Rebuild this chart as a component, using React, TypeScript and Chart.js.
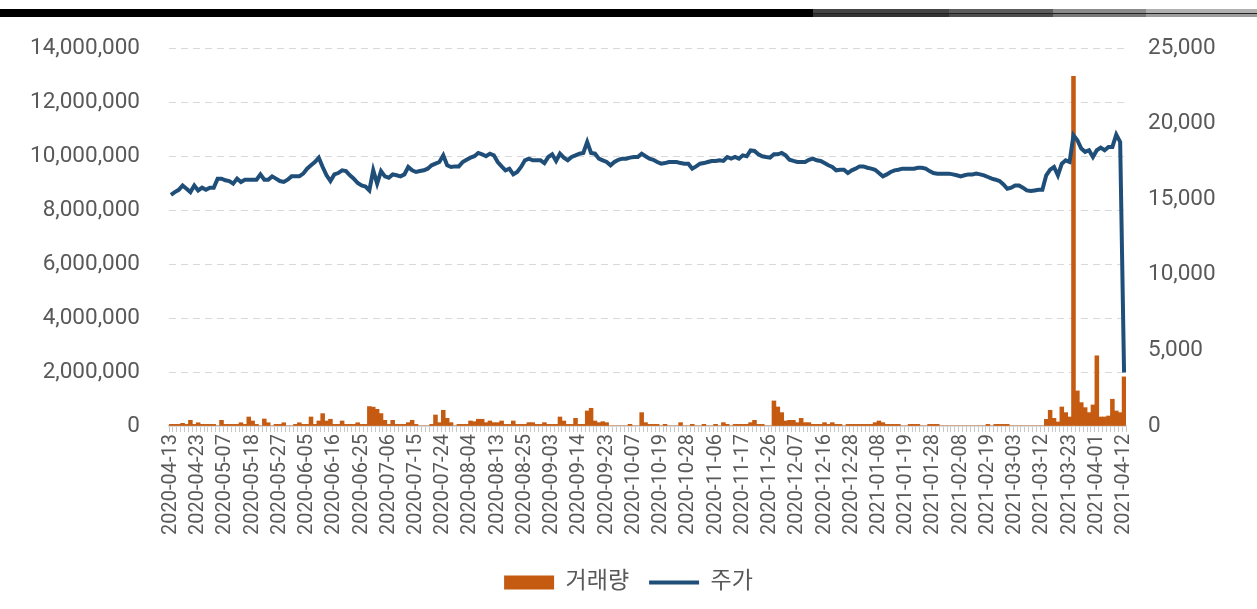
import React, { useEffect, useRef } from 'react';
import { Chart, registerables } from 'chart.js';

Chart.register(...registerables);

// Korean trading days, 2020-04-13 .. 2021-04-12
const MONTH_DAYS: [string, number[]][] = [
  ['2020-04', [13, 14, 16, 17, 20, 21, 22, 23, 24, 27, 28, 29]],
  ['2020-05', [4, 6, 7, 8, 11, 12, 13, 14, 15, 18, 19, 20, 21, 22, 25, 26, 27, 28, 29]],
  ['2020-06', [1, 2, 3, 4, 5, 8, 9, 10, 11, 12, 15, 16, 17, 18, 19, 22, 23, 24, 25, 26, 29, 30]],
  ['2020-07', [1, 2, 3, 6, 7, 8, 9, 10, 13, 14, 15, 16, 17, 20, 21, 22, 23, 24, 27, 28, 29, 30, 31]],
  ['2020-08', [3, 4, 5, 6, 7, 10, 11, 12, 13, 14, 18, 19, 20, 21, 24, 25, 26, 27, 28, 31]],
  ['2020-09', [1, 2, 3, 4, 7, 8, 9, 10, 11, 14, 15, 16, 17, 18, 21, 22, 23, 24, 25, 28, 29]],
  ['2020-10', [5, 6, 7, 8, 12, 13, 14, 15, 16, 19, 20, 21, 22, 23, 26, 27, 28, 29, 30]],
  ['2020-11', [2, 3, 4, 5, 6, 9, 10, 11, 12, 13, 16, 17, 18, 19, 20, 23, 24, 25, 26, 27, 30]],
  ['2020-12', [1, 2, 3, 4, 7, 8, 9, 10, 11, 14, 15, 16, 17, 18, 21, 22, 23, 24, 28, 29, 30]],
  ['2021-01', [4, 5, 6, 7, 8, 11, 12, 13, 14, 15, 18, 19, 20, 21, 22, 25, 26, 27, 28, 29]],
  ['2021-02', [1, 2, 3, 4, 5, 8, 9, 10, 15, 16, 17, 18, 19, 22, 23, 24, 25, 26]],
  ['2021-03', [2, 3, 4, 5, 8, 9, 10, 11, 12, 15, 16, 17, 18, 19, 22, 23, 24, 25, 26, 29, 30, 31]],
  ['2021-04', [1, 2, 5, 6, 7, 8, 9, 12]],
];
const DATES: string[] = MONTH_DAYS.flatMap(([m, days]) =>
  days.map((d) => `${m}-${String(d).padStart(2, '0')}`)
);

// 거래량 (volume, left axis)
const VOLUME: number[] = [
  60000, 60000, 60000, 100000, 60000, 210000, 60000, 120000, 60000, 60000,
  60000, 60000, 0, 210000, 60000, 60000, 60000, 60000, 120000, 60000,
  334000, 186000, 60000, 0, 260000, 120000, 0, 60000, 60000, 120000,
  0, 0, 60000, 120000, 60000, 60000, 334000, 60000, 186000, 458000,
  186000, 250000, 60000, 60000, 186000, 60000, 60000, 60000, 120000, 60000,
  60000, 720000, 700000, 620000, 460000, 210000, 60000, 210000, 60000, 60000,
  60000, 124000, 210000, 60000, 0, 0, 0, 60000, 408000, 124000,
  580000, 285000, 124000, 0, 60000, 60000, 60000, 186000, 160000, 250000,
  250000, 124000, 186000, 124000, 124000, 186000, 60000, 60000, 186000, 60000,
  60000, 60000, 124000, 124000, 60000, 60000, 124000, 60000, 60000, 60000,
  334000, 186000, 60000, 60000, 285000, 60000, 60000, 557000, 656000, 186000,
  124000, 160000, 124000, 0, 0, 0, 0, 0, 62000, 0,
  0, 495000, 124000, 60000, 60000, 60000, 0, 62000, 0, 0,
  0, 124000, 0, 0, 62000, 0, 0, 62000, 0, 0,
  62000, 0, 124000, 62000, 0, 60000, 60000, 60000, 60000, 124000,
  210000, 60000, 60000, 0, 0, 928000, 705000, 495000, 186000, 210000,
  210000, 124000, 285000, 124000, 124000, 60000, 60000, 60000, 124000, 60000,
  124000, 60000, 60000, 0, 60000, 60000, 60000, 60000, 60000, 60000,
  60000, 124000, 186000, 124000, 60000, 60000, 60000, 60000, 0, 0,
  60000, 60000, 60000, 0, 0, 60000, 60000, 60000, 0, 0,
  0, 0, 0, 0, 0, 0, 0, 0, 0, 0,
  60000, 0, 60000, 60000, 60000, 60000, 0, 0, 0, 0,
  0, 0, 0, 0, 0, 248000, 582000, 285000, 149000, 705000,
  495000, 334000, 12950000, 1300000, 866000, 680000, 495000, 780000, 2600000, 334000,
  334000, 370000, 990000, 557000, 495000, 1820000,
];

// 주가 (price, right axis)
const PRICE: number[] = [
  15290, 15470, 15620, 15910, 15690, 15470, 15910, 15580, 15760, 15620,
  15760, 15760, 16360, 16360, 16250, 16200, 16030, 16360, 16140, 16290,
  16290, 16290, 16290, 16640, 16290, 16290, 16510, 16360, 16200, 16140,
  16290, 16510, 16510, 16510, 16690, 17020, 17240, 17460, 17750, 17130,
  16580, 16200, 16640, 16730, 16910, 16860, 16580, 16360, 16070, 15910,
  15840, 15580, 16910, 16030, 16860, 16510, 16420, 16640, 16580, 16510,
  16640, 17130, 16910, 16800, 16860, 16910, 17020, 17240, 17350, 17460,
  17900, 17240, 17130, 17170, 17170, 17460, 17610, 17750, 17840, 18060,
  17970, 17840, 18010, 17900, 17460, 17170, 16910, 17020, 16640, 16800,
  17130, 17570, 17680, 17570, 17570, 17570, 17390, 17790, 17970, 17530,
  18010, 17750, 17570, 17790, 17900, 18010, 18060, 18790, 18060, 18010,
  17680, 17570, 17460, 17240, 17460, 17610, 17680, 17680, 17750, 17790,
  17790, 18010, 17840, 17680, 17610, 17460, 17350, 17390, 17460, 17460,
  17460, 17390, 17350, 17350, 17020, 17170, 17350, 17390, 17460, 17530,
  17530, 17570, 17530, 17790, 17680, 17790, 17680, 17900, 17840, 18230,
  18190, 17970, 17840, 17790, 17750, 17970, 17970, 18060, 17900, 17610,
  17530, 17460, 17460, 17460, 17610, 17680, 17570, 17530, 17390, 17240,
  17130, 16910, 16950, 16950, 16730, 16910, 17020, 17170, 17170, 17080,
  17020, 16950, 16730, 16510, 16640, 16800, 16910, 16950, 17020, 17020,
  17020, 17020, 17080, 17080, 17020, 16860, 16730, 16690, 16690, 16690,
  16690, 16640, 16580, 16510, 16580, 16640, 16640, 16690, 16640, 16580,
  16470, 16360, 16290, 16200, 15980, 15690, 15760, 15910, 15910, 15760,
  15580, 15540, 15580, 15620, 15620, 16580, 16950, 17130, 16580, 17350,
  17570, 17460, 19230, 18900, 18350, 18130, 18240, 17790, 18240, 18410,
  18240, 18460, 18460, 19270, 18790, 3535,
];

const BAR_COLOR = '#C55A11';
const LINE_COLOR = '#1F4E79';
const TEXT_COLOR = '#595959';
const FONT = 'Roboto, "Noto Sans CJK KR", sans-serif';

export default function App() {
  const ref = useRef<HTMLCanvasElement>(null);

  useEffect(() => {
    const chart = new Chart(ref.current as HTMLCanvasElement, {
      type: 'bar',
      data: {
        labels: DATES,
        datasets: [
          {
            type: 'bar',
            label: '거래량',
            data: VOLUME,
            backgroundColor: BAR_COLOR,
            borderWidth: 0,
            barPercentage: 1,
            categoryPercentage: 1,
            yAxisID: 'y',
            order: 2,
          },
          {
            type: 'line',
            label: '주가',
            data: PRICE,
            borderColor: LINE_COLOR,
            backgroundColor: LINE_COLOR,
            borderWidth: 4,
            pointRadius: 0,
            tension: 0,
            yAxisID: 'y1',
            order: 1,
          } as any,
        ],
      },
      options: {
        responsive: false,
        animation: false,
        layout: { padding: { top: 48, left: 0, right: 0, bottom: 5 } },
        plugins: {
          tooltip: { enabled: false },
          legend: {
            position: 'bottom',
            labels: {
              usePointStyle: true,
              pointStyleWidth: 50,
              boxHeight: 14,
              padding: 20,
              color: TEXT_COLOR,
              font: { family: FONT, size: 23 },
              sort: (a: any, b: any) => a.datasetIndex - b.datasetIndex,
              generateLabels: (c: any) => {
                const items = (Chart.defaults.plugins.legend.labels as any).generateLabels(c);
                return items.map((it: any) =>
                  it.datasetIndex === 0
                    ? { ...it, pointStyle: 'rect', lineWidth: 0, fillStyle: BAR_COLOR }
                    : { ...it, pointStyle: 'line', lineWidth: 4, strokeStyle: LINE_COLOR }
                );
              },
            },
          },
        },
        scales: {
          x: {
            grid: {
              display: true,
              drawOnChartArea: false,
              drawTicks: true,
              tickLength: 6,
              color: '#c8c8c8',
            },
            border: { display: true, color: '#d9d9d9', width: 2 },
            ticks: {
              autoSkip: false,
              minRotation: 90,
              maxRotation: 90,
              padding: 2,
              color: TEXT_COLOR,
              font: { family: FONT, size: 20 },
              callback: (_v: any, i: number) => (i % 7 === 0 ? DATES[i] : ''),
            },
            afterFit: (s: any) => {
              s.height = 125;
            },
          },
          y: {
            position: 'left',
            min: 0,
            max: 14000000,
            grid: { color: '#d9d9d9', lineWidth: 1, drawTicks: false },
            border: { display: false, dash: [7, 5] },
            ticks: {
              stepSize: 2000000,
              padding: 29,
              color: TEXT_COLOR,
              font: { family: FONT, size: 22.5 },
              callback: (v: any) => Number(v).toLocaleString('en-US'),
            },
            afterFit: (s: any) => {
              s.width = 169;
            },
          },
          y1: {
            position: 'right',
            min: 0,
            max: 25000,
            grid: { display: false, drawTicks: false },
            border: { display: false },
            ticks: {
              stepSize: 5000,
              padding: 22,
              color: TEXT_COLOR,
              font: { family: FONT, size: 22.5 },
              callback: (v: any) => Number(v).toLocaleString('en-US'),
            },
            afterFit: (s: any) => {
              s.width = 131;
            },
          },
        },
      },
    });
    return () => chart.destroy();
  }, []);

  const seg = (left: number, width: number, top: string, bottom: string) => (
    <div style={{ position: 'absolute', left, top: 9, width, height: 8 }}>
      <div style={{ height: 4, background: top }} />
      <div style={{ height: 1, background: '#222' }} />
      <div style={{ height: 3, background: bottom }} />
    </div>
  );

  return (
    <div
      style={{
        position: 'fixed',
        left: 0,
        top: 0,
        width: 1257,
        height: 609,
        background: '#fff',
        overflow: 'hidden',
      }}
    >
      <div style={{ position: 'absolute', left: 0, top: 9, width: 813, height: 8, background: '#000' }} />
      {seg(813, 136, '#444444', '#333333')}
      {seg(949, 104, '#5c5c5c', '#4d4d4d')}
      {seg(1053, 93, '#8a8a8a', '#777777')}
      {seg(1146, 111, '#b0b0b0', '#9c9c9c')}
      <canvas
        ref={ref}
        width={1257}
        height={609}
        style={{ position: 'absolute', left: 0, top: 0, display: 'block' }}
      />
    </div>
  );
}
